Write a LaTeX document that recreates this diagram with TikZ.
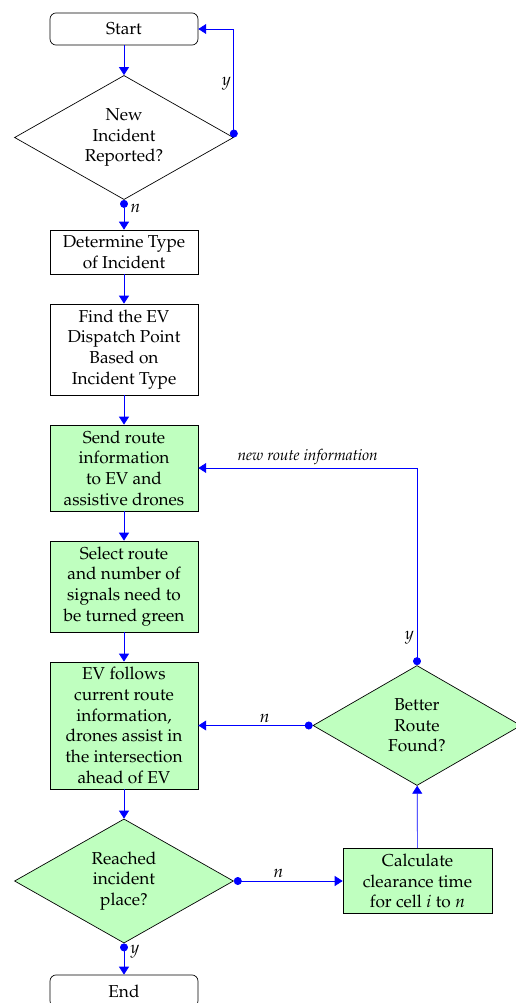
\documentclass[tikz,border=0pt]{standalone}
\usepackage[T1]{fontenc}
\usepackage{mathpazo}
\usetikzlibrary{shapes.geometric}
\usetikzlibrary{arrows.meta}

\tikzset{
	block/.style={rectangle, draw=black, align=center, minimum width=85.8pt, inner sep=2pt},
	greenblock/.style={block, fill=green!25},
	terminal/.style={block, rounded corners=3.5pt, minimum height=18.6pt},
	decision/.style={diamond, draw=black, align=center, inner sep=0pt, aspect=1.77, minimum width=127pt, minimum height=72pt},
	greendecision/.style={decision, fill=green!25},
	flow/.style={draw=blue, -{Triangle[width=5.8pt,length=4.6pt]}},
	dotflow/.style={draw=blue, {Circle[length=4.6pt]}-{Triangle[width=5.8pt,length=4.6pt]}},
	lbl/.style={font=\itshape, inner sep=1.5pt}
}

\begin{document}
\begin{tikzpicture}[x=0.58pt, y=-0.58pt]
	\useasboundingbox (0,0) rectangle (516,1003);
	\node[terminal] (start) at (124,29) {Start};
	\node[decision] (newinc) at (124,137.5) {New\\Incident\\Reported?};
	\node[block, minimum height=25.5pt] (type) at (124,252) {Determine Type\\of Incident};
	\node[block, minimum height=52.8pt] (dispatch) at (124,349.5) {Find the EV\\Dispatch Point\\Based on\\Incident Type};
	\node[greenblock, minimum height=49.9pt] (send) at (124,468) {Send route\\information\\to EV and\\assistive drones};
	\node[greenblock, minimum height=52.8pt] (select) at (124,586.5) {Select route\\and number of\\signals need to\\be turned green};
	\node[greenblock, minimum height=73.7pt] (follow) at (124,725.5) {EV follows\\current route\\information,\\drones assist in\\the intersection\\ahead of EV};
	\node[greendecision] (reached) at (124,881) {Reached\\incident\\place?};
	\node[terminal] (finish) at (124,991) {End};
	\node[greenblock, minimum width=86.4pt, minimum height=37.7pt] (clearance) at (417.5,881) {Calculate\\clearance time\\for cell $i$ to $n$};
	\node[greendecision, aspect=1.73, minimum width=120.6pt, minimum height=69.6pt] (better) at (417,725.5) {Better\\Route\\Found?};

	\draw[flow] (start) -- (newinc);
	\draw[dotflow] (newinc.south) -- node[lbl, right, pos=0.27, xshift=2pt] {$n$} (type.north);
	\draw[dotflow] (newinc.east) |- node[lbl, left, pos=0.25] {$y$} (start.east);
	\draw[flow] (type) -- (dispatch);
	\draw[flow] (dispatch) -- (send);
	\draw[flow] (send) -- (select);
	\draw[flow] (select) -- (follow);
	\draw[flow] (follow) -- (reached);
	\draw[dotflow] (reached.south) -- node[lbl, right, pos=0.28, xshift=2pt] {$y$} (finish.north);
	\draw[dotflow] (reached.east) -- node[lbl, above, pos=0.41] {$n$} (clearance.west);
	\draw[flow] (clearance) -- (better);
	\draw[dotflow] (better.west) -- node[lbl, above, pos=0.42] {$n$} (follow.east);
	\draw[dotflow] (better.north) |- node[lbl, left, pos=0.07] {$y$} node[lbl, above, pos=0.75, font=\small\itshape] {new route information} (send.east);
\end{tikzpicture}
\end{document}
